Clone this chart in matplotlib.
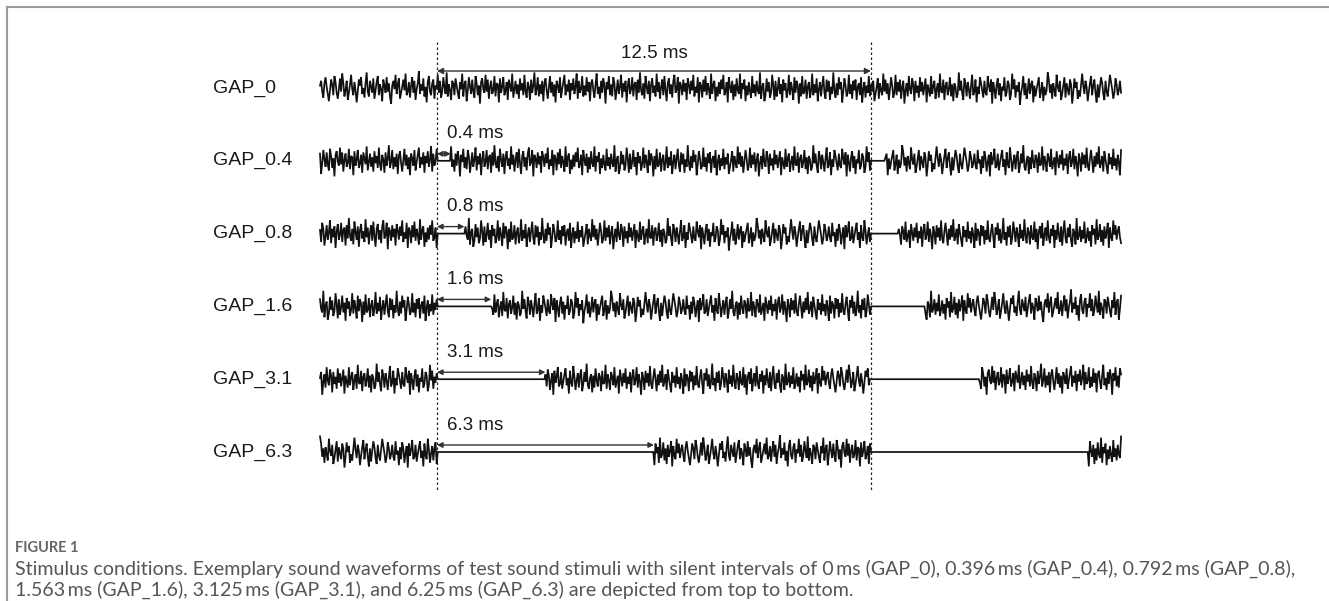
import matplotlib.pyplot as plt
import numpy as np

# gap conditions (ms) and row labels
gaps = [0.0, 0.396, 0.792, 1.563, 3.125, 6.25]
labels = ["GAP_0", "GAP_0.4", "GAP_0.8", "GAP_1.6", "GAP_3.1", "GAP_6.3"]
gap_texts = ["12.5 ms", "0.4 ms", "0.8 ms", "1.6 ms", "3.1 ms", "6.3 ms"]
window = 12.5          # ms between the dashed markers
t_start, t_end = -3.37, 19.73
dt = 0.032

# noise samples (amplitude in px), reused per row with an offset
noise = [
    2, 6, -3, -8, 4, 9, 1, -5, -11, -2, 7, 3, -6, 10, 5, -4, -9, -1, 8, -3, 12, 4, -7, -2, 6, -10, -4, 3, 11, -1,
    -6, 5, -2, -12, -3, 7, 2, 9, -5, 0, -8, 4, 13, -3, -7, 6, 1, -4, 8, -9, -2, 5, 10, -6, 3, -1, -11, 7, 2, -4,
    9, -3, 4, -7, -13, 2, 6, -1, 11, -5, 3, 8, -9, -4, 1, 7, -2, 12, -6, -3, 5, -8, 2, 9, -4, 6, -10, -1, 4, 14,
    -5, 3, -2, 8, -7, 1, -12, 5, 10, -3, -6, 4, 7, -9, 2, -1, 11, -4, 6, -8, -3, 9, 1, -5, 13, -7, 3, -2, -10, 6,
    4, -6, 8, 2, -4, -9, 5, -1, 12, -7, 3, 6, -11, -2, 9, 1, -5, 7, -3, -8, 10, 4, -6, 2, -13, 5, 8, -1, -4, 11,
    -3, 7, -9, 1, 6, -5, -2, 10, -7, 4, 3, -12, 8, -4, 1, 9, -6, -2, 5, -10, 7, 2, -3, 12, -8, -1, 6, -5, 3, -9,
    8, -2, 4, -6, 11, -3, -8, 5, 1, -10, 7, -4, 2, 13, -6, -1, 9, -7, 3, -5, 6, -11, 4, 8, -2, -9, 1, 10, -4, 5,
    -7, 3, -12, 6, 2, -4, 9, -8, -1, 5, 11, -6, 3, -3, 7, -10, 4, -2, 8, -5, 1, 12, -9, 6, -4, -1, 10, -7, 2, -6,
    9, -3, 5, -11, 4, 7, -2, -8, 3, 12, -5, 1, -9, 6, -4, 8, 2, -13, 5, -1, 10, -6, 3, -7, 9, 4, -10, -2, 7, -5,
    1, 11, -8, 4, -3, 6, -12, 2, 8, -5, -1, 9, -7, 3, 5, -10, 7, -4, 13, -2, -6, 4, -9, 10, 1, -5, 6, -11, 3, 8,
    -4, 2, -7, 12, -3, 5, -9, 1, 7, -6, 10, -2, -11, 4, 8, -5, 3, -8, 6, 11, -4, -1, 9, -13, 5, 2, -6, 7, -3, 4,
    -10, 8, 3, -5, 6, -2, 11, -7, 1, -4, 9, -12, 5, 2, -8, 7, -3, 10, -6, 4, -1, -9, 12, -5, 3, 6, -11, 1, -7, 5,
]

W, H = 1329, 601
T0_PX, PX_PER_MS = 437, 434 / 12.5
ROW0, ROW_STEP = 88, 72.8
AMP = 1.2

fig = plt.figure(figsize=(W / 100, H / 100), dpi=100)
ax = fig.add_axes([0, 0, 1, 1])
ax.set_xlim(-T0_PX / PX_PER_MS, (W - T0_PX) / PX_PER_MS)
ax.set_ylim(H, 0)
ax.set_axis_off()

font = "Liberation Sans"
n = int((t_end - t_start) / dt) + 1
t = t_start + dt * np.arange(n)
noise = np.array(noise, dtype=float)
seq = np.concatenate([noise, -noise[::-1], -noise[100:]])
label_x = (213 - T0_PX) / PX_PER_MS

for i, (g, lab, gtxt) in enumerate(zip(gaps, labels, gap_texts)):
    yc = ROW0 + i * ROW_STEP
    vals = np.roll(seq, -131 * i)[:n].copy()
    silent = ((t >= 0) & (t < g)) | ((t >= window) & (t < window + g))
    vals[silent] = 0
    ax.plot(t, yc - AMP * vals, color="#111111", lw=1.25, solid_joinstyle="miter")
    ax.text(label_x, yc, lab, ha="left", va="center", fontsize=14, family=font, color="#1a1a1a")
    if g == 0:
        ya = yc - 17
        ax.annotate("", xy=(0, ya), xytext=(window, ya),
                    arrowprops=dict(arrowstyle="<|-|>", color="#333333", lw=1.0,
                                    shrinkA=0, shrinkB=0, mutation_scale=9))
        ax.text(window / 2, ya - 18, gtxt, ha="center", va="center", fontsize=13.5,
                family=font, color="#1a1a1a")
    else:
        ya = yc - 7
        ax.annotate("", xy=(0, ya), xytext=(g, ya),
                    arrowprops=dict(arrowstyle="<|-|>", color="#333333", lw=1.0,
                                    shrinkA=0, shrinkB=0, mutation_scale=8))
        ax.text(0.29, yc - 27, gtxt, ha="left", va="center", fontsize=13.5,
                family=font, color="#1a1a1a")

for tx in (0, window):
    ax.plot([tx, tx], [42, 490], color="#222222", lw=0.9, ls=(0, (2, 2)))

# frame lines (top and left only)
fig.add_artist(plt.Line2D([7 / W, 1], [1 - 7 / H, 1 - 7 / H], color="#9a9a9a", lw=1.5))
fig.add_artist(plt.Line2D([7 / W, 7 / W], [0, 1 - 7 / H], color="#9a9a9a", lw=1.5))

fig.text(15 / W, 1 - 548 / H, "FIGURE 1", ha="left", va="center", fontsize=10.5,
         family="Lato", weight="bold", color="#666666")
fig.text(15 / W, 1 - 569 / H,
         "Stimulus conditions. Exemplary sound waveforms of test sound stimuli with silent intervals of 0\u2009ms (GAP_0), 0.396\u2009ms (GAP_0.4), 0.792\u2009ms (GAP_0.8),",
         ha="left", va="center", fontsize=14.1, family=["Lato", "DejaVu Sans"], color="#555555")
fig.text(15 / W, 1 - 590 / H,
         "1.563\u2009ms (GAP_1.6), 3.125\u2009ms (GAP_3.1), and 6.25\u2009ms (GAP_6.3) are depicted from top to bottom.",
         ha="left", va="center", fontsize=14.1, family=["Lato", "DejaVu Sans"], color="#555555")

fig.savefig("out.png", dpi=100)
